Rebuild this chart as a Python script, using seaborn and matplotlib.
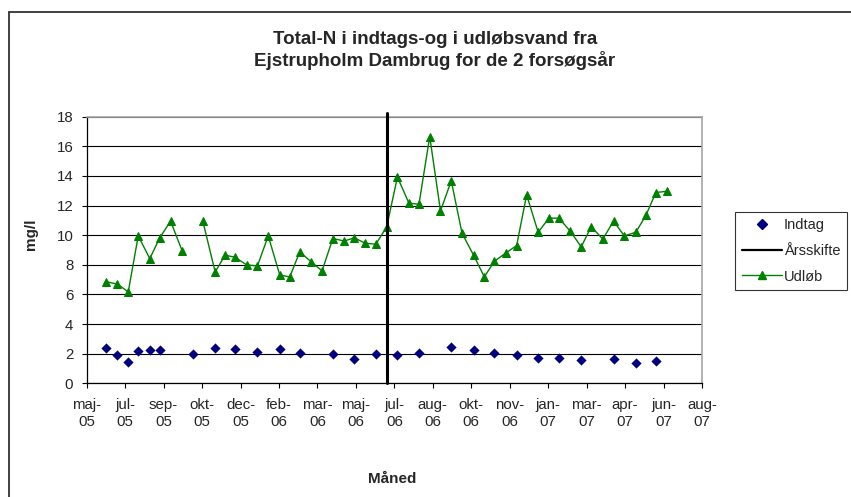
import pandas as pd
import seaborn as sns
import matplotlib.pyplot as plt
from matplotlib.lines import Line2D

# Udløb (outlet) - biweekly samples, None = missing sample
udlob_dates = [
    "2005-06-22", "2005-07-07", "2005-07-21", "2005-08-03", "2005-08-18", "2005-08-31",
    "2005-09-14", "2005-09-29", "2005-10-13", "2005-10-26", "2005-11-11", "2005-11-24",
    "2005-12-07", "2005-12-22", "2006-01-05", "2006-01-19", "2006-02-03", "2006-02-16",
    "2006-03-01", "2006-03-16", "2006-03-30", "2006-04-13", "2006-04-28", "2006-05-11",
    "2006-05-25", "2006-06-08", "2006-06-22", "2006-07-06", "2006-07-21", "2006-08-03",
    "2006-08-17", "2006-08-31", "2006-09-14", "2006-09-28", "2006-10-13", "2006-10-27",
    "2006-11-09", "2006-11-24", "2006-12-08", "2006-12-21", "2007-01-05", "2007-01-19",
    "2007-02-01", "2007-02-16", "2007-03-02", "2007-03-15", "2007-03-30", "2007-04-13",
    "2007-04-27", "2007-05-12", "2007-05-25", "2007-06-07", "2007-06-22",
]
udlob_values = [
    6.86, 6.70, 6.17, 9.95, 8.42, 9.82,
    10.95, 8.96, None, 10.95, 7.52, 8.65,
    8.51, 7.99, 7.93, 9.95, 7.32, 7.18,
    8.87, 8.20, 7.59, 9.77, 9.61, 9.82,
    9.46, 9.39, 10.56, 13.92, 12.16, 12.09,
    16.66, 11.64, 13.67, 10.13, 8.65, 7.18,
    8.24, 8.80, 9.30, 12.72, 10.20, 11.15,
    11.15, 10.25, 9.21, 10.58, 9.73, 10.95,
    9.95, 10.20, 11.33, 12.88, 12.97,
]

# Indtag (inlet) - monthly samples
indtag_dates = [
    "2005-06-22", "2005-07-07", "2005-07-21", "2005-08-03", "2005-08-18", "2005-08-31",
    "2005-10-13", "2005-11-11", "2005-12-07", "2006-01-05", "2006-02-03", "2006-03-01",
    "2006-04-13", "2006-05-11", "2006-06-08", "2006-07-06", "2006-08-03", "2006-09-14",
    "2006-10-13", "2006-11-09", "2006-12-08", "2007-01-05", "2007-02-01", "2007-03-02",
    "2007-04-13", "2007-05-12", "2007-06-07",
]
indtag_values = [
    2.36, 1.89, 1.46, 2.20, 2.25, 2.23,
    1.96, 2.39, 2.30, 2.14, 2.30, 2.05,
    1.96, 1.64, 1.96, 1.89, 2.05, 2.45,
    2.23, 2.05, 1.89, 1.73, 1.73, 1.57,
    1.64, 1.39, 1.49,
]

year_change = "2006-06-22"

# excel date axis: starts 28 May 2005, major unit 50 days
x_start = "2005-05-28"
x_end = "2007-08-06"
tick_labels = ["maj-\n05", "jul-\n05", "sep-\n05", "okt-\n05", "dec-\n05", "feb-\n06",
               "mar-\n06", "maj-\n06", "jul-\n06", "aug-\n06", "okt-\n06", "nov-\n06",
               "jan-\n07", "mar-\n07", "apr-\n07", "jun-\n07", "aug-\n07"]
y_ticks = [0, 2, 4, 6, 8, 10, 12, 14, 16, 18]

sns.set_style("white")
plt.rcParams['font.family'] = ['Liberation Sans', 'DejaVu Sans']

df_ud = pd.DataFrame({"dato": pd.to_datetime(udlob_dates), "N": udlob_values})
df_ud["seg"] = df_ud["N"].isna().cumsum()
df_ud = df_ud.dropna()
df_in = pd.DataFrame({"dato": pd.to_datetime(indtag_dates), "N": indtag_values})

fig = plt.figure(figsize=(8.51, 4.97), dpi=100)
ax = fig.add_axes([86.7 / 851, 1 - 383.3 / 497, (702 - 86.7) / 851, (383.3 - 116.7) / 497])

green = "#008000"
navy = "#000080"

ax.grid(axis="y", color="black", linewidth=0.8)
ax.set_axisbelow(True)

sns.lineplot(data=df_ud, x="dato", y="N", units="seg", estimator=None, color=green,
             linewidth=1.0, marker="^", markersize=6, markeredgecolor=green,
             ax=ax, legend=False)
sns.scatterplot(data=df_in, x="dato", y="N", marker="D", s=27, color=navy,
                linewidth=0, ax=ax, legend=False, zorder=3)
ax.axvline(pd.Timestamp(year_change), ymin=0, ymax=1.015, color="black",
           linewidth=2.2, clip_on=False, zorder=4)

ax.set_xlim(pd.Timestamp(x_start), pd.Timestamp(x_end))
ax.set_ylim(0, 18)
ax.set_yticks(y_ticks)
ax.set_xticks(pd.date_range(x_start, periods=len(tick_labels), freq="50D"))
ax.set_xticklabels(tick_labels, linespacing=1.3)
ax.tick_params(axis="both", labelsize=10.8, length=3.6, width=0.8, color="black",
               direction="out", left=True, bottom=True)
ax.tick_params(axis="x", pad=7)
ax.tick_params(axis="y", pad=6)

for side in ["left", "bottom"]:
    ax.spines[side].set_color("black")
    ax.spines[side].set_linewidth(0.9)
for side in ["top", "right"]:
    ax.spines[side].set_visible(True)
    ax.spines[side].set_color("#a6a6a6")
    ax.spines[side].set_linewidth(1.2)

ax.set_xlabel("Måned", fontsize=11, fontweight="bold")
ax.set_ylabel("mg/l", fontsize=11, fontweight="bold")
ax.xaxis.set_label_coords(0.496, -0.333)
ax.yaxis.set_label_coords(-0.079, 0.56)

fig.text(435 / 851, 1 - 51 / 497,
         "Total-N i indtags-og i udløbsvand fra\nEjstrupholm Dambrug for de 2 forsøgsår",
         ha="center", va="center", fontsize=13.5, fontweight="bold", linespacing=1.2)

# chart area border (cropped at right and bottom)
fig.add_artist(Line2D([9 / 851, 9 / 851], [0, 1 - 12 / 497], transform=fig.transFigure,
                      color="#333333", linewidth=1.3))
fig.add_artist(Line2D([9 / 851, 1], [1 - 12 / 497, 1 - 12 / 497], transform=fig.transFigure,
                      color="#333333", linewidth=1.3))

handles = [
    Line2D([], [], linestyle="none", marker="D", markersize=4.8, color=navy),
    Line2D([], [], color="black", linewidth=1.6),
    Line2D([], [], color=green, linewidth=1.0, marker="^", markersize=6),
]
leg = fig.legend(handles, ["Indtag", "Årsskifte", "Udløb"], loc="upper left",
                 bbox_to_anchor=(735 / 851, 1 - 211.7 / 497), borderaxespad=0,
                 fontsize=10.5, frameon=True, fancybox=False, edgecolor="black",
                 handlelength=2.75, handletextpad=0.15, labelspacing=0.8,
                 borderpad=0.45)
leg.get_frame().set_linewidth(0.8)

fig.savefig("out.png", dpi=100)
